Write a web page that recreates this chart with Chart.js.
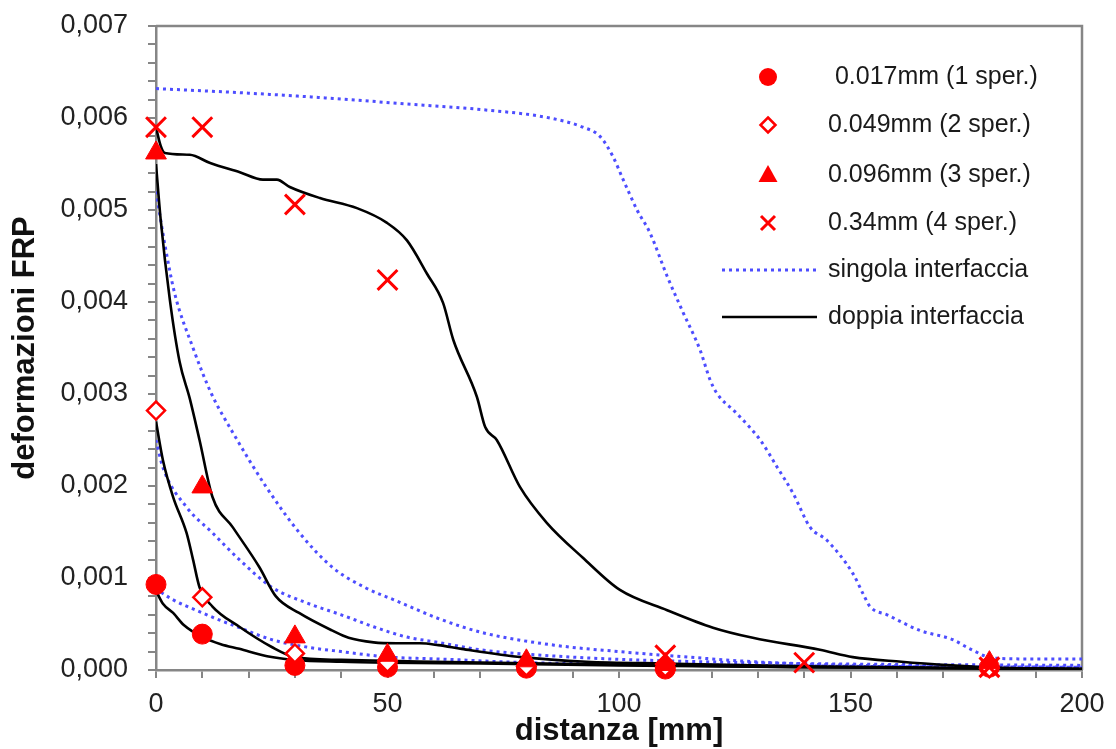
<!DOCTYPE html>
<html>
<head>
  <title>deformazioni FRP</title>
  <script src="https://cdn.jsdelivr.net/npm/chart.js@4.4.1/dist/chart.umd.min.js"></script>
  <style>
    body { margin: 0; background: #fff; }
  </style>
</head>
<body>
  <canvas id="myChart" width="1116" height="749"></canvas>
<script>
// measured points (markers)
const dist1 = [0, 10, 30, 50, 80, 110, 180];
const sper1 = [0.00093, 0.00039, 0.00005, 0.00003, 0.00002, 0.00001, 0.00003];
const dist2 = [0, 10, 30, 50, 80, 110, 180];
const sper2 = [0.00282, 0.00079, 0.00018, 0.00008, 0.00004, 0.00003, 0.00002];
const dist3 = [0, 10, 30, 50, 80, 110, 180];
const sper3 = [0.00562, 0.00199, 0.00036, 0.00016, 0.0001, 0.00006, 0.00008];
const dist4 = [0, 10, 30, 50, 110, 140, 180];
const sper4 = [0.0059, 0.0059, 0.00506, 0.00424, 0.00016, 0.00008, 0.00003];

// singola interfaccia (dotted blue)
const singX1 = [0, 1, 11, 18, 25, 32.5, 40, 50.5, 61, 80, 110, 150, 200];
const singY1 = [0.0009, 0.00085, 0.0006, 0.00046, 0.00033, 0.00025, 0.0002, 0.00014, 0.00012, 0.00008, 0.00006, 0.00004, 0.00003];
const singX2 = [0, 1.5, 6.6, 12.2, 18, 25, 32.5, 40, 47, 54, 61, 70, 90, 110, 140, 200];
const singY2 = [0.0025, 0.0022, 0.00177, 0.00149, 0.0012, 0.0009, 0.00073, 0.0006, 0.00047, 0.00036, 0.0003, 0.00022, 0.00014, 0.0001, 0.00007, 0.00005];
const singX3 = [0, 2, 4, 8, 12, 16.6, 23.8, 31, 38, 45, 52, 61.5, 71, 86, 100, 115, 129, 143, 170, 200];
const singY3 = [0.0052, 0.0046, 0.0041, 0.0035, 0.003, 0.00258, 0.00199, 0.00149, 0.00112, 0.0009, 0.00075, 0.00055, 0.0004, 0.00027, 0.0002, 0.00014, 0.00009, 0.00006, 0.00004, 0.00003];
const singX4 = [0, 20, 41.9, 52, 70.6, 85.1, 92.2, 95.9, 98.7, 100.9, 103.9, 106.7, 110.4, 113.9, 117.5, 119.7, 121.1, 125.4, 130.5, 134.1, 137.6, 141.3, 144.9, 150.5, 152.7, 154.2, 157.9, 165, 172.1, 175.8, 180.8, 190, 200];
const singY4 = [0.00632, 0.00627, 0.0062, 0.00616, 0.00609, 0.006, 0.0059, 0.0058, 0.00558, 0.00533, 0.005, 0.00475, 0.00428, 0.00388, 0.00348, 0.00315, 0.00301, 0.00279, 0.0025, 0.00221, 0.00192, 0.00155, 0.00141, 0.00105, 0.00083, 0.00069, 0.0006, 0.00043, 0.00033, 0.00023, 0.00013, 0.00012, 0.00012];

// doppia interfaccia (solid black)
const doppX1 = [0, 1.5, 3.7, 6, 10, 14, 18, 24, 30, 40, 50, 70, 100, 140, 200];
const doppY1 = [0.00086, 0.00072, 0.00062, 0.00049, 0.00036, 0.00028, 0.00023, 0.00015, 0.00011, 0.00009, 0.00008, 0.00007, 0.00005, 0.00003, 0.00001];
const doppX2 = [0, 1.5, 3.7, 6.6, 8, 9.4, 12.2, 18, 25, 30, 40, 50, 70, 100, 140, 200];
const doppY2 = [0.0027, 0.00228, 0.00188, 0.00149, 0.0012, 0.0009, 0.00069, 0.00047, 0.00025, 0.00014, 0.00011, 0.0001, 0.00008, 0.00006, 0.00003, 0.00001];
const doppX3 = [0, 1, 3, 5.1, 7.3, 9.4, 12.2, 16.6, 22.3, 25.9, 30.9, 38, 41.6, 47, 52, 57, 61, 66, 79, 93, 110, 140, 180, 200];
const doppY3 = [0.0055, 0.0049, 0.00402, 0.00335, 0.00295, 0.0025, 0.00188, 0.00155, 0.00112, 0.0008, 0.00062, 0.00043, 0.00035, 0.0003, 0.00029, 0.00029, 0.00027, 0.00023, 0.00014, 0.00009, 0.00007, 0.00004, 0.00002, 0.00001];
const doppX4 = [0, 1, 1.9, 7.3, 11.7, 18.1, 23.1, 26.1, 28.9, 35.4, 43.4, 49.9, 54.2, 58.5, 62, 64.2, 69.3, 71.1, 73.6, 78.6, 84.4, 92.2, 100.2, 110.4, 120.3, 128.9, 143.4, 150.5, 161, 172, 179, 200];
const doppY4 = [0.0059, 0.0057, 0.00562, 0.0056, 0.00551, 0.00541, 0.00533, 0.00533, 0.00525, 0.00513, 0.00502, 0.00486, 0.00467, 0.00431, 0.00399, 0.00359, 0.00297, 0.00264, 0.0025, 0.00199, 0.0016, 0.00122, 0.00087, 0.00065, 0.00046, 0.00035, 0.00022, 0.00014, 0.00009, 0.00005, 0.00003, 0.00001];

const legendLabels = [' 0.017mm (1 sper.)', '0.049mm (2 sper.)', '0.096mm (3 sper.)', '0.34mm (4 sper.)', 'singola interfaccia', 'doppia interfaccia'];

const FONT = "'Liberation Sans', Arial, sans-serif";
const RED = '#ff0000';
const BLUE = '#4d4dff';
const GRAY = '#868686';

function pts(xs, ys) {
  return xs.map((x, i) => ({ x: x, y: ys[i] }));
}

function markerSet(label, xs, ys, style, radius, bg, bw) {
  return {
    label: label, data: pts(xs, ys), clip: false,
    pointStyle: style, pointRadius: radius, pointHoverRadius: radius,
    backgroundColor: bg, borderColor: RED, pointBorderWidth: bw, showLine: false
  };
}

function curveSet(xs, ys, color, dotted) {
  return {
    label: dotted ? 'singola interfaccia' : 'doppia interfaccia',
    data: pts(xs, ys), showLine: true, pointRadius: 0,
    borderColor: color, borderWidth: dotted ? 3 : 2.6,
    borderDash: dotted ? [3, 4] : [], borderCapStyle: 'butt',
    cubicInterpolationMode: 'monotone', fill: false
  };
}

const datasets = [
  markerSet(legendLabels[3], dist4, sper4, 'crossRot', 14, RED, 3),
  markerSet(legendLabels[2], dist3, sper3, 'triangle', 12, RED, 1),
  markerSet(legendLabels[1], dist2, sper2, 'rectRot', 9, '#ffffff', 2.5),
  markerSet(legendLabels[0], dist1, sper1, 'circle', 10, RED, 1),
  curveSet(doppX1, doppY1, '#000', false),
  curveSet(doppX2, doppY2, '#000', false),
  curveSet(doppX3, doppY3, '#000', false),
  curveSet(doppX4, doppY4, '#000', false),
  curveSet(singX1, singY1, BLUE, true),
  curveSet(singX2, singY2, BLUE, true),
  curveSet(singX3, singY3, BLUE, true),
  curveSet(singX4, singY4, BLUE, true)
];

// top and right border of the plot
const framePlugin = {
  id: 'frame',
  beforeDatasetsDraw(chart) {
    const a = chart.chartArea, c = chart.ctx;
    c.save();
    c.strokeStyle = GRAY;
    c.lineWidth = 2.5;
    c.beginPath();
    c.moveTo(a.left, a.top);
    c.lineTo(a.right, a.top);
    c.lineTo(a.right, a.bottom);
    c.stroke();
    c.restore();
  }
};

// legend inside the plot, right side
const legendPlugin = {
  id: 'insideLegend',
  afterDraw(chart) {
    const c = chart.ctx;
    const symX = 768, textX = 828, rows = [77, 125, 175, 223, 270, 317];
    c.save();
    c.font = '25px ' + FONT;
    c.fillStyle = '#1a1a1a';
    c.textBaseline = 'middle';
    c.textAlign = 'left';
    legendLabels.forEach((t, i) => c.fillText(t, textX, rows[i]));
    c.fillStyle = RED;
    c.strokeStyle = RED;
    // circle
    c.beginPath(); c.arc(symX, rows[0], 9, 0, Math.PI * 2); c.fill();
    // diamond
    c.lineWidth = 2.5;
    c.fillStyle = '#fff';
    c.beginPath();
    c.moveTo(symX, rows[1] - 7.5); c.lineTo(symX + 7.5, rows[1]);
    c.lineTo(symX, rows[1] + 7.5); c.lineTo(symX - 7.5, rows[1]); c.closePath();
    c.fill(); c.stroke();
    // triangle
    c.fillStyle = RED;
    c.beginPath();
    c.moveTo(symX, rows[2] - 10); c.lineTo(symX + 9.5, rows[2] + 7); c.lineTo(symX - 9.5, rows[2] + 7);
    c.closePath(); c.fill();
    // cross
    c.lineWidth = 3;
    c.beginPath();
    c.moveTo(symX - 7, rows[3] - 7); c.lineTo(symX + 7, rows[3] + 7);
    c.moveTo(symX + 7, rows[3] - 7); c.lineTo(symX - 7, rows[3] + 7);
    c.stroke();
    // dotted line
    c.strokeStyle = BLUE;
    c.lineWidth = 3;
    c.setLineDash([3, 4]);
    c.beginPath(); c.moveTo(722, rows[4]); c.lineTo(817, rows[4]); c.stroke();
    // solid line
    c.setLineDash([]);
    c.strokeStyle = '#000';
    c.lineWidth = 2.6;
    c.beginPath(); c.moveTo(722, rows[5]); c.lineTo(817, rows[5]); c.stroke();
    c.restore();
  }
};

const ctx = document.getElementById('myChart').getContext('2d');
const myChart = new Chart(ctx, {
  type: 'scatter',
  data: { datasets: datasets },
  options: {
    responsive: false,
    animation: false,
    events: [],
    layout: { padding: { top: 26, right: 34, bottom: 0, left: 0 } },
    plugins: {
      legend: { display: false },
      tooltip: { enabled: false }
    },
    scales: {
      x: {
        type: 'linear', min: 0, max: 200,
        border: { display: true, color: GRAY, width: 2.5 },
        grid: { drawOnChartArea: false, drawTicks: true, tickLength: 8, color: GRAY, tickColor: GRAY, lineWidth: 2 },
        ticks: {
          stepSize: 10, autoSkip: false, maxRotation: 0, padding: 10, color: '#222',
          font: { family: FONT, size: 27 },
          callback: v => (Math.round(v) % 50 === 0 ? String(Math.round(v)) : '')
        },
        title: {
          display: true, text: 'distanza [mm]', color: '#111',
          font: { family: FONT, size: 31, weight: 'bold', lineHeight: 1.1 },
          padding: { top: 0, bottom: 0 }
        },
        afterFit: s => { s.height = 79; s.paddingLeft = 0; s.paddingRight = 0; }
      },
      y: {
        type: 'linear', min: 0, max: 0.007,
        border: { display: true, color: GRAY, width: 2.5 },
        grid: { drawOnChartArea: false, drawTicks: true, tickLength: 8, color: GRAY, tickColor: GRAY, lineWidth: 2 },
        ticks: {
          stepSize: 0.0002, autoSkip: false, maxTicksLimit: 100, padding: 20, color: '#222',
          font: { family: FONT, size: 27 },
          callback: v => (Math.round(v / 0.0002) % 5 === 0 ? v.toFixed(3).replace('.', ',') : '')
        },
        title: {
          display: true, text: 'deformazioni FRP', color: '#111',
          font: { family: FONT, size: 31, weight: 'bold', lineHeight: 1.1 },
          padding: { top: 8, bottom: 0 }
        },
        afterFit: s => { s.width = 156; s.paddingTop = 0; s.paddingBottom = 0; }
      }
    }
  },
  plugins: [framePlugin, legendPlugin]
});
</script>
</body>
</html>
